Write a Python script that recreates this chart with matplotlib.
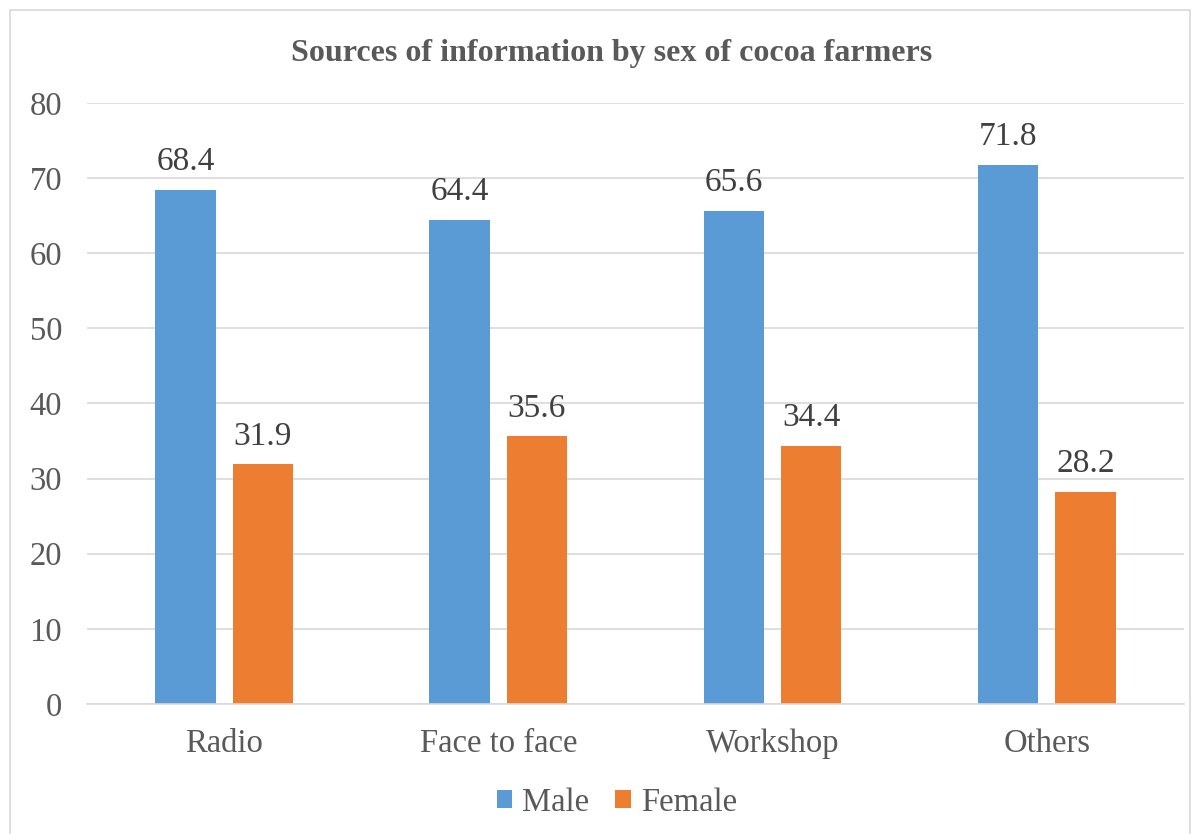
import matplotlib.pyplot as plt
from matplotlib.patches import Rectangle
import numpy as np

categories = ['Radio', 'Face to face', 'Workshop', 'Others']
male = [68.4, 64.4, 65.6, 71.8]
female = [31.9, 35.6, 34.4, 28.2]
series_names = ['Male', 'Female']

plt.rcParams['font.family'] = ['Liberation Serif', 'DejaVu Serif']
text_color = '#595959'

fig = plt.figure(figsize=(12, 8.34), dpi=100)
ax = fig.add_axes([0.0725, 0.156, 0.914, 0.7205])

# outer chart border
fig.patches.append(Rectangle((10 / 1200, -0.01), 1180 / 1200, 1 - 10 / 834 + 0.01,
                             transform=fig.transFigure, fill=False,
                             edgecolor='#D9D9D9', linewidth=1.2))

x = np.arange(len(categories))
w = 0.22
off = 0.141
b1 = ax.bar(x - off, male, w, color='#5B9BD5', label=series_names[0])
b2 = ax.bar(x + off, female, w, color='#ED7D31', label=series_names[1])

for bars in (b1, b2):
    for r in bars:
        ax.text(r.get_x() + r.get_width() / 2, r.get_height() + 1.7,
                f'{r.get_height():.1f}', ha='center', va='bottom',
                fontsize=24, color='#404040')

ax.set_xlim(-0.5, len(categories) - 0.5)
ax.set_ylim(0, 80)
ax.set_yticks(range(0, 81, 10))
ax.set_xticks(x)
ax.set_xticklabels(categories)
ax.tick_params(axis='both', length=0, labelsize=23.5, labelcolor=text_color)
ax.tick_params(axis='y', pad=18)
ax.tick_params(axis='x', pad=18)
ax.grid(axis='y', color='#D9D9D9', linewidth=1.2)
ax.set_axisbelow(True)
for s in ['top', 'right', 'left']:
    ax.spines[s].set_visible(False)
ax.spines['bottom'].set_color('#D9D9D9')
ax.spines['bottom'].set_linewidth(1.2)

fig.text(0.51, 0.936, 'Sources of information by sex of cocoa farmers',
         ha='center', va='center', fontsize=23, fontweight='bold', color=text_color)

fig.legend(loc='center', bbox_to_anchor=(0.514, 0.038), ncol=2, frameon=False,
           fontsize=23.5, handlelength=0.48, handleheight=0.48, handletextpad=0.3,
           columnspacing=0.8, labelcolor=text_color)

fig.savefig('out.png', dpi=100)
